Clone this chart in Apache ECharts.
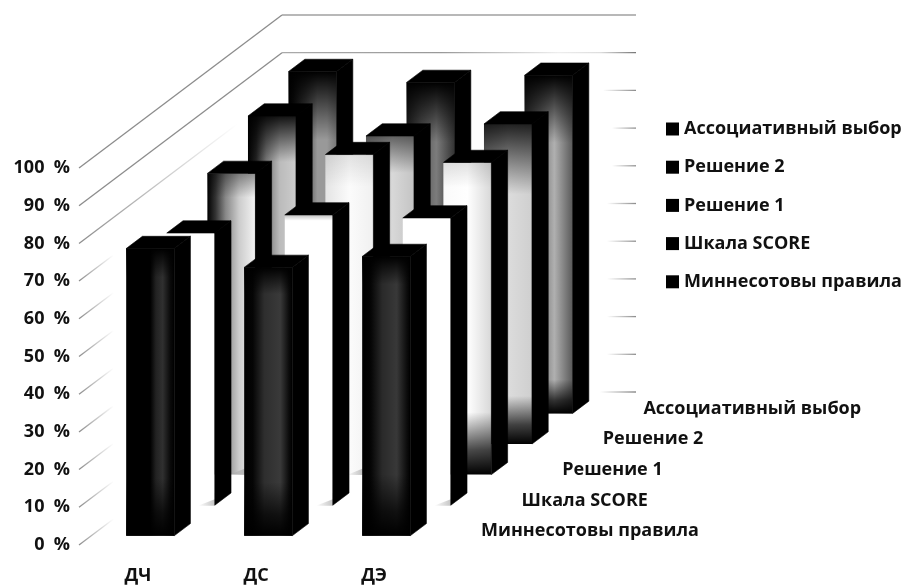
<!DOCTYPE html>
<html>
<head>
<meta charset="utf-8">
<style>html,body{margin:0;padding:0;background:#fff}#c{width:904px;height:585px}</style>
<script src="https://cdn.jsdelivr.net/npm/echarts@6/dist/echarts.min.js"></script>
</head>
<body>
<div id="c"></div>
<script>
// ---- data ----
const categories = ['ДЧ', 'ДС', 'ДЭ'];
const rowNames = ['Миннесотовы правила', 'Шкала SCORE', 'Решение 1', 'Решение 2', 'Ассоциативный выбор'];
const minnesota = [76.2, 71.2, 74.1];
const score = [72.2, 77.0, 76.2];
const solution1 = [79.9, 84.9, 82.8];
const solution2 = [87.0, 81.7, 84.9];
const associative = [90.7, 87.8, 89.7];
const ticks = [0, 10, 20, 30, 40, 50, 60, 70, 80, 90, 100];

// ---- styles ----
const FONT = '"Open Sans"';
const LABEL_SIZE = 18;
const rowValues = [minnesota, score, solution1, solution2, associative];
// oblique projection of the depth axis
const DX = 203, DY = -153, ROWS = 5, BAR_FRONT = 0.3, BAR_BACK = 0.7, BAR_WIDTH = 48;
// stops: horizontal colour stops, top/bottom: [fraction of height, opacity of black]
const faceStyles = [
  [ {stops:[[0,'#000'],[.5,'#000'],[.62,'#222'],[.76,'#303030'],[.92,'#0a0a0a'],[1,'#000']],top:[.1,1],bottom:[.2,1]},
    {stops:[[0,'#000'],[.18,'#050505'],[.42,'#2e2e2e'],[.75,'#3a3a3a'],[.93,'#0c0c0c'],[1,'#000']],top:[.1,1],bottom:[.2,1]},
    {stops:[[0,'#000'],[.18,'#050505'],[.42,'#2a2a2a'],[.72,'#383838'],[.93,'#0c0c0c'],[1,'#000']],top:[.1,1],bottom:[.22,1]} ],
  [ {stops:[[0,'#fff'],[1,'#fff']],top:[0,0],bottom:[0,0],foot:[.65,1]},
    {stops:[[0,'#fff'],[1,'#fff']],top:[.02,.25],bottom:[0,0],foot:[.65,1]},
    {stops:[[0,'#fff'],[1,'#fff']],top:[0,0],bottom:[0,0],foot:[.65,1]} ],
  [ {stops:[[0,'#000'],[.17,'#333'],[.38,'#888'],[.66,'#ccc'],[.97,'#f0f0f0'],[1,'#fff']],top:[.08,.4],bottom:[0,0],foot:[.45,.78]},
    {stops:[[0,'#e4e4e4'],[.5,'#fbfbfb'],[1,'#f0f0f0']],top:[.1,.1],bottom:[0,0],foot:[.45,.78]},
    {stops:[[0,'#fafafa'],[.5,'#fff'],[1,'#d8d8d8']],top:[.08,.12],bottom:[.2,1]} ],
  [ {stops:[[0,'#000'],[.17,'#222'],[.38,'#777'],[.66,'#bbb'],[1,'#ccc']],top:[.14,.9],bottom:[0,0]},
    {stops:[[0,'#aaa'],[.55,'#d8d8d8'],[1,'#c4c4c4']],top:[.12,.55],bottom:[0,0]},
    {stops:[[0,'#aaa'],[.5,'#dcdcdc'],[1,'#cfcfcf']],top:[.22,.85],bottom:[.15,1]} ],
  [ {stops:[[0,'#000'],[.1,'#111'],[.37,'#555'],[.6,'#999'],[.8,'#999'],[1,'#777']],top:[.2,1],bottom:[0,0]},
    {stops:[[0,'#222'],[.3,'#555'],[.62,'#7c7c7c'],[1,'#333']],top:[.18,1],bottom:[0,0]},
    {stops:[[0,'#333'],[.35,'#777'],[.62,'#b0b0b0'],[1,'#5a5a5a']],top:[.2,1],bottom:[.1,1]} ]
];
// reach of each wall line along the depth axis, and start of the back-wall tick
const sideReach = [.17, .17, .17, .17, .17, .17, .17, .17, .78, 1, 1];
const backReach = [36, 29, 29, 29, 29, 29, 24, 24, 33, 354, 354];

const LG = echarts.graphic.LinearGradient;
const rgba = a => 'rgba(0,0,0,' + a + ')';

function makeBar(row) {
  const f0 = (row + BAR_FRONT) / ROWS, f1 = (row + BAR_BACK) / ROWS;
  return function (params, api) {
    const cat = api.value(0), val = api.value(1);
    const top = api.coord([cat, val]), base = api.coord([cat, 0]);
    const l = top[0] - BAR_WIDTH / 2, r = top[0] + BAR_WIDTH / 2;
    const fx = f0 * DX, fy = f0 * DY, bx = f1 * DX, by = f1 * DY;
    const st = faceStyles[row][cat];
    const x = l + fx, y = top[1] + fy, w = BAR_WIDTH, h = base[1] - top[1];
    const children = [];
    children.push({type: 'rect', shape: {x, y, width: w, height: h},
      style: {fill: new LG(0, 0, 1, 0, st.stops.map(s => ({offset: s[0], color: s[1]})))}});
    if (st.top[0] > 0) {
      children.push({type: 'rect', shape: {x, y, width: w, height: h * st.top[0]},
        style: {fill: new LG(0, 0, 0, 1, [{offset: 0, color: rgba(st.top[1])}, {offset: .35, color: rgba(st.top[1] * .65)}, {offset: 1, color: rgba(0)}])}});
    }
    if (st.bottom[0] > 0) {
      const bh = h * st.bottom[0];
      children.push({type: 'rect', shape: {x, y: y + h - bh, width: w, height: bh},
        style: {fill: new LG(0, 0, 0, 1, [{offset: 0, color: rgba(0)}, {offset: .6, color: rgba(st.bottom[1] * .7)}, {offset: 1, color: rgba(st.bottom[1])}])}});
    }
    if (st.foot) {
      const a = x + w * st.foot[0], b = x + w * st.foot[1];
      children.push({type: 'polygon', shape: {points: [[a, y + h + .5], [b, y + h + .5], [b, y + h - 6]]},
        style: {fill: new LG(a, 0, b, 0, [{offset: 0, color: 'rgba(150,150,150,0)'}, {offset: 1, color: 'rgba(150,150,150,.55)'}], true)}});
    }
    // side face
    children.push({type: 'polygon', shape: {points: [
      [r + fx, top[1] + fy], [r + bx, top[1] + by], [r + bx, base[1] + by], [r + fx, base[1] + fy]
    ]}, style: {fill: '#000', stroke: '#000', lineWidth: .6}});
    // top face
    children.push({type: 'polygon', shape: {points: [
      [l + fx, top[1] + fy], [r + fx, top[1] + fy], [r + bx, top[1] + by], [l + bx, top[1] + by]
    ]}, style: {fill: '#000', stroke: '#000', lineWidth: .6}});
    return {type: 'group', children};
  };
}

function renderWall(params, api) {
  const i = api.value(0), val = ticks[i];
  const band = api.size([1, 0])[0];
  const left = api.coord([0, val]);
  const right = api.coord([categories.length - 1, val]);
  const x0 = left[0] - band / 2, y0 = left[1];
  const x1 = x0 + sideReach[i] * DX, y1 = y0 + sideReach[i] * DY;
  const bxR = right[0] + band / 2 + DX, byR = y0 + DY;
  const bxL = bxR - backReach[i];
  const full = sideReach[i] === 1;
  const sideStroke = full ? '#8c8c8c'
    : new LG(x0, y0, x1, y1, [{offset: 0, color: '#8c8c8c'}, {offset: 1, color: 'rgba(140,140,140,0)'}], true);
  const backStroke = val === 100 ? '#a0a0a0'
    : new LG(bxR, byR, bxL, byR, val === 90
      ? [{offset: 0, color: '#777'}, {offset: .1, color: '#ddd'}, {offset: .22, color: '#eee'}, {offset: .55, color: '#999'}, {offset: 1, color: '#aaa'}]
      : [{offset: 0, color: '#8c8c8c'}, {offset: 1, color: 'rgba(140,140,140,0)'}], true);
  return {type: 'group', children: [
    {type: 'line', shape: {x1: x0, y1: y0, x2: x1, y2: y1}, style: {stroke: sideStroke, lineWidth: 1.3}},
    {type: 'line', shape: {x1: bxL, y1: byR, x2: bxR, y2: byR}, style: {stroke: backStroke, lineWidth: 1.3}}
  ]};
}

function renderRowLabel(params, api) {
  const row = api.value(0);
  const band = api.size([1, 0])[0];
  const p = api.coord([categories.length - 1, 0]);
  return {type: 'text', style: {
    x: p[0] + band / 2 + BAR_WIDTH + row * DX / ROWS,
    y: p[1] - 14 + row * DY / ROWS,
    text: rowNames[row], fill: '#111', font: '700 ' + LABEL_SIZE + 'px ' + FONT,
    textAlign: 'left', textVerticalAlign: 'middle'
  }};
}

const series = [
  {type: 'custom', name: 'walls', data: ticks.map((t, i) => [i, t]), renderItem: renderWall,
   clip: false, silent: true, z: 1, encode: {x: 0, y: 1}}
];
for (let row = ROWS - 1; row >= 0; row--) {
  series.push({
    type: 'custom', name: rowNames[row], renderItem: makeBar(row), clip: false, silent: true,
    itemStyle: {color: '#000'}, z: 2 + (ROWS - row),
    data: rowValues[row].map((v, i) => [i, v]), encode: {x: 0, y: 1}
  });
}
series.push({type: 'custom', name: 'rows', data: rowNames.map((n, i) => [i, 0]), renderItem: renderRowLabel,
  clip: false, silent: true, z: 20, encode: {x: 0, y: 1}});

const chart = echarts.init(document.getElementById('c'), null, {renderer: 'canvas'});
const axisText = {color: '#111', fontFamily: FONT, fontWeight: 700, fontSize: LABEL_SIZE};
chart.setOption({
  animation: false,
  backgroundColor: '#fff',
  grid: {left: 79, top: 168, width: 354, height: 378, containLabel: false},
  xAxis: {type: 'category', data: categories,
    axisLine: {show: false}, axisTick: {show: false}, splitLine: {show: false},
    axisLabel: {...axisText, margin: 22}},
  yAxis: {type: 'value', min: 0, max: 100, interval: 10,
    axisLine: {show: false}, axisTick: {show: false}, splitLine: {show: false},
    axisLabel: {...axisText, margin: 9, formatter: v => v + '  %'}},
  legend: {orient: 'vertical', left: 666, top: 120, padding: 0, itemWidth: 13, itemHeight: 13, itemGap: 20.2,
    icon: 'rect', selectedMode: false,
    data: rowNames.slice().reverse(),
    textStyle: {...axisText, padding: [0, 0, 0, 0]}},
  tooltip: {show: false},
  series
});
</script>
</body>
</html>
